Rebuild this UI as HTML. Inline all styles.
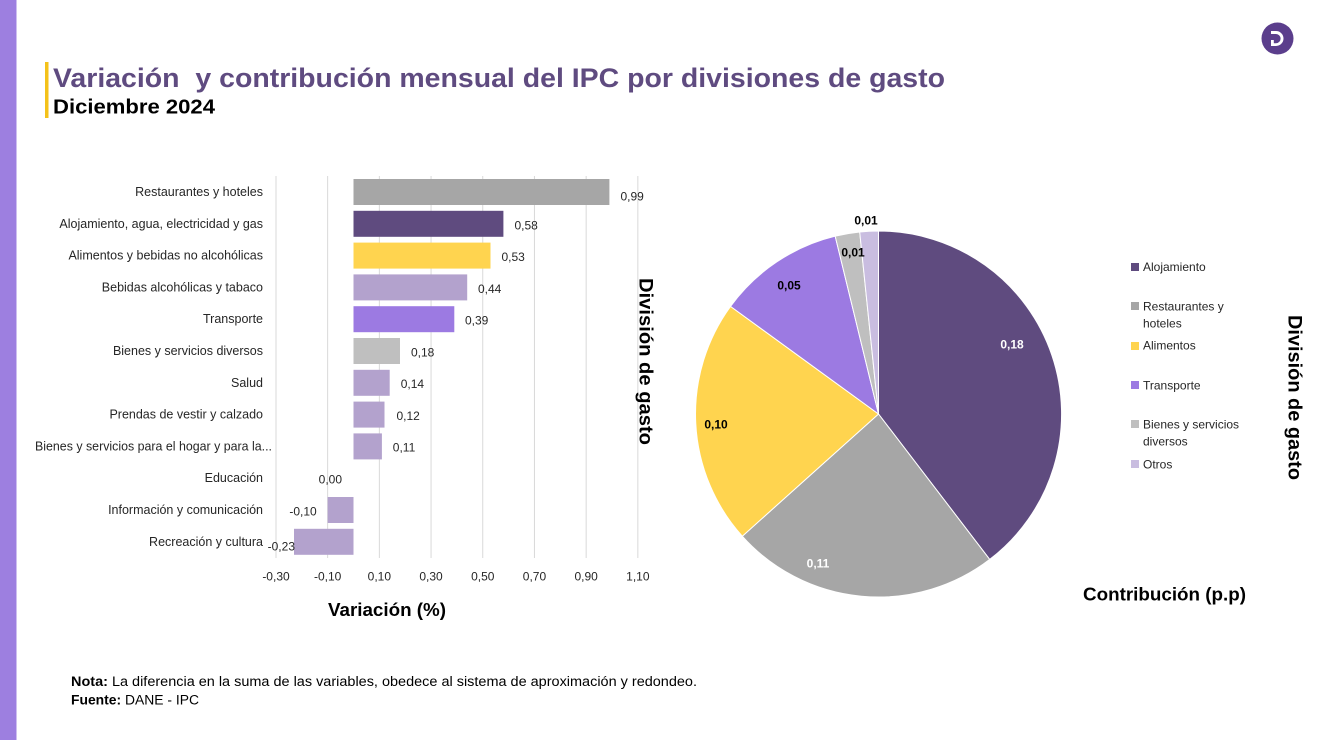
<!DOCTYPE html>
<html>
<head>
<meta charset="utf-8">
<style>
html,body{margin:0;padding:0;background:#fff;}
body{width:1320px;height:740px;overflow:hidden;}
svg{display:block;font-family:"Liberation Sans",Arial,sans-serif;}
</style>
</head>
<body>
<svg width="1320" height="740" viewBox="0 0 1320 740" xmlns="http://www.w3.org/2000/svg">
  <rect x="0" y="0" width="1320" height="740" fill="#ffffff"/>
  <!-- left stripe -->
  <rect x="0" y="0" width="16.5" height="740" fill="#9d7fe0"/>
  <!-- title accent -->
  <rect x="45" y="62" width="3.5" height="56" fill="#f4c21a"/>
  <text x="53" y="87" font-size="27" font-weight="bold" fill="#5f4b80" textLength="892" lengthAdjust="spacingAndGlyphs" style="white-space:pre">Variación  y contribución mensual del IPC por divisiones de gasto</text>
  <text x="53" y="113.5" font-size="20" font-weight="bold" fill="#000" textLength="162" lengthAdjust="spacingAndGlyphs">Diciembre 2024</text>

  <!-- logo -->
  <circle cx="1277.5" cy="38.5" r="16" fill="#5b3e8c"/>
  <path d="M1271 31 h5 a7.5 7.5 0 0 1 0 15 h-5 v-6 h2.8 v3.2 h2.2 a4.6 4.6 0 0 0 0 -9.2 h-5 z" fill="#fff"/>

  <!-- gridlines -->
  <g stroke="#d9d9d9" stroke-width="1">
    <line x1="276" y1="176" x2="276" y2="558"/>
    <line x1="327.65" y1="176" x2="327.65" y2="558"/>
    <line x1="379.35" y1="176" x2="379.35" y2="558"/>
    <line x1="431.05" y1="176" x2="431.05" y2="558"/>
    <line x1="482.75" y1="176" x2="482.75" y2="558"/>
    <line x1="534.45" y1="176" x2="534.45" y2="558"/>
    <line x1="586.15" y1="176" x2="586.15" y2="558"/>
    <line x1="637.85" y1="176" x2="637.85" y2="558"/>
  </g>

  <!-- bars -->
  <rect x="353.5" y="179" width="255.9" height="26" fill="#a6a6a6"/>
  <rect x="353.5" y="210.8" width="149.9" height="26" fill="#5f4b7f"/>
  <rect x="353.5" y="242.6" width="137" height="26" fill="#ffd44f"/>
  <rect x="353.5" y="274.4" width="113.7" height="26" fill="#b3a2cd"/>
  <rect x="353.5" y="306.2" width="100.8" height="26" fill="#9c7ae2"/>
  <rect x="353.5" y="338" width="46.5" height="26" fill="#bfbfbf"/>
  <rect x="353.5" y="369.8" width="36.2" height="26" fill="#b3a2cd"/>
  <rect x="353.5" y="401.6" width="31" height="26" fill="#b3a2cd"/>
  <rect x="353.5" y="433.4" width="28.4" height="26" fill="#b3a2cd"/>
  <rect x="327.65" y="497" width="25.85" height="26" fill="#b3a2cd"/>
  <rect x="294" y="528.8" width="59.5" height="26" fill="#b3a2cd"/>

  <!-- category labels -->
  <g font-size="12.5" fill="#262626" text-anchor="end">
    <text x="263" y="196">Restaurantes y hoteles</text>
    <text x="263" y="227.8">Alojamiento, agua, electricidad y gas</text>
    <text x="263" y="259.6">Alimentos y bebidas no alcohólicas</text>
    <text x="263" y="291.4">Bebidas alcohólicas y tabaco</text>
    <text x="263" y="323.2">Transporte</text>
    <text x="263" y="355">Bienes y servicios diversos</text>
    <text x="263" y="386.8">Salud</text>
    <text x="263" y="418.6">Prendas de vestir y calzado</text>
    <text x="263" y="482.2">Educación</text>
    <text x="263" y="514">Información y comunicación</text>
    <text x="263" y="545.8">Recreación y cultura</text>
  </g>
  <text x="35" y="450.4" font-size="12.5" fill="#262626" textLength="237" lengthAdjust="spacingAndGlyphs">Bienes y servicios para el hogar y para la...</text>

  <!-- value labels -->
  <g font-size="12" fill="#262626">
    <text x="620.5" y="200.5">0,99</text>
    <text x="514.5" y="229.5">0,58</text>
    <text x="501.5" y="261">0,53</text>
    <text x="478" y="293">0,44</text>
    <text x="465" y="324.5">0,39</text>
    <text x="411" y="356.5">0,18</text>
    <text x="400.7" y="388">0,14</text>
    <text x="396.5" y="420">0,12</text>
    <text x="392.8" y="451.5">0,11</text>
  </g>
  <g font-size="12" fill="#262626" text-anchor="end">
    <text x="342" y="483.5">0,00</text>
    <text x="316.7" y="515.5">-0,10</text>
    <text x="295" y="550.5">-0,23</text>
  </g>

  <!-- x tick labels -->
  <g font-size="12" fill="#262626" text-anchor="middle">
    <text x="276" y="580.5">-0,30</text>
    <text x="327.65" y="580.5">-0,10</text>
    <text x="379.35" y="580.5">0,10</text>
    <text x="431.05" y="580.5">0,30</text>
    <text x="482.75" y="580.5">0,50</text>
    <text x="534.45" y="580.5">0,70</text>
    <text x="586.15" y="580.5">0,90</text>
    <text x="637.85" y="580.5">1,10</text>
  </g>
  <text x="328" y="616" font-size="18" font-weight="bold" fill="#000" textLength="118" lengthAdjust="spacingAndGlyphs">Variación (%)</text>
  <text transform="translate(639.5,278) rotate(90)" x="0" y="0" font-size="19" font-weight="bold" fill="#000" textLength="167" lengthAdjust="spacingAndGlyphs">División de gasto</text>

  <!-- pie -->
  <g stroke="#ffffff" stroke-width="1" stroke-linejoin="round">
    <path d="M878.5 414 L878.5 231 A183 183 0 0 1 989.7 559.4 Z" fill="#5f4b7f"/>
    <path d="M878.5 414 L989.7 559.4 A183 183 0 0 1 742.3 536.2 Z" fill="#a6a6a6"/>
    <path d="M878.5 414 L742.3 536.2 A183 183 0 0 1 730.5 306.4 Z" fill="#ffd44f"/>
    <path d="M878.5 414 L730.5 306.4 A183 183 0 0 1 835.2 236.2 Z" fill="#9c7ae2"/>
    <path d="M878.5 414 L835.2 236.2 A183 183 0 0 1 859.7 232 Z" fill="#bfbfbf"/>
    <path d="M878.5 414 L859.7 232 A183 183 0 0 1 878.5 231 Z" fill="#c9bde0"/>
  </g>
  <g font-size="12" font-weight="bold" text-anchor="middle">
    <text x="1012" y="348.5" fill="#ffffff">0,18</text>
    <text x="818" y="567.5" fill="#ffffff">0,11</text>
    <text x="716" y="428.5" fill="#000">0,10</text>
    <text x="789" y="289.5" fill="#000">0,05</text>
    <text x="853" y="256.5" fill="#000">0,01</text>
    <text x="866" y="224.5" fill="#000">0,01</text>
  </g>

  <!-- legend -->
  <rect x="1131" y="263" width="8" height="8" fill="#5f4b7f"/>
  <rect x="1131" y="302" width="8" height="8" fill="#a6a6a6"/>
  <rect x="1131" y="342" width="8" height="8" fill="#ffd44f"/>
  <rect x="1131" y="381" width="8" height="8" fill="#9c7ae2"/>
  <rect x="1131" y="420" width="8" height="8" fill="#bfbfbf"/>
  <rect x="1131" y="460" width="8" height="8" fill="#c9bde0"/>
  <g font-size="12" fill="#262626">
    <text x="1143" y="271">Alojamiento</text>
    <text x="1143" y="310.5">Restaurantes y</text>
    <text x="1143" y="327.5">hoteles</text>
    <text x="1143" y="349.5">Alimentos</text>
    <text x="1143" y="389.5">Transporte</text>
    <text x="1143" y="428.5">Bienes y servicios</text>
    <text x="1143" y="445.5">diversos</text>
    <text x="1143" y="468.5">Otros</text>
  </g>
  <text transform="translate(1288.5,315) rotate(90)" x="0" y="0" font-size="19" font-weight="bold" fill="#000" textLength="165" lengthAdjust="spacingAndGlyphs">División de gasto</text>
  <text x="1083" y="600.5" font-size="18" font-weight="bold" fill="#000" textLength="163" lengthAdjust="spacingAndGlyphs">Contribución (p.p)</text>

  <!-- notes -->
  <text x="71" y="686" font-size="13.5" fill="#000" textLength="626" lengthAdjust="spacingAndGlyphs"><tspan font-weight="bold">Nota:</tspan> La diferencia en la suma de las variables, obedece al sistema de aproximación y redondeo.</text>
  <text x="71" y="704.5" font-size="13.5" fill="#000" textLength="128" lengthAdjust="spacingAndGlyphs"><tspan font-weight="bold">Fuente:</tspan> DANE - IPC</text>
</svg>
</body>
</html>
